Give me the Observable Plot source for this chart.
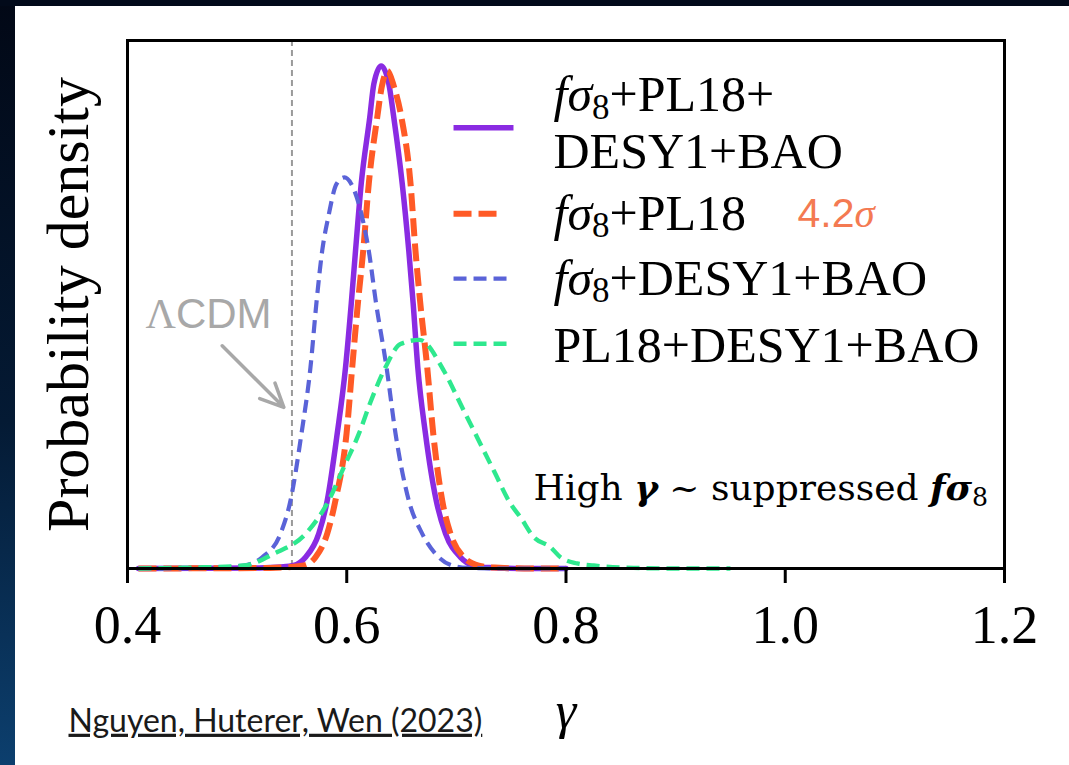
<!DOCTYPE html>
<html>
<head>
<meta charset="utf-8">
<script src="https://cdn.jsdelivr.net/npm/d3@7"></script>
<script src="https://cdn.jsdelivr.net/npm/@observablehq/plot@0.6"></script>
<style>
  html, body { margin: 0; padding: 0; }
  body { width: 1069px; height: 765px; overflow: hidden; background: linear-gradient(180deg, #020816 0%, #041a34 55%, #0c3f6e 100%); position: relative; }
  #topband { position: absolute; left: 0; top: 0; width: 1069px; height: 6px; background: #020a1a; }
  #panel { position: absolute; left: 15px; top: 6px; width: 1054px; height: 759px; background: #ffffff; border-top-left-radius: 3px; }
  #panel svg { display: block; }
</style>
</head>
<body>
<div id="topband"></div>
<div id="panel"></div>
<script>
// ---------- data ----------
const gammaTicks = [0.4, 0.6, 0.8, 1.0, 1.2];
const lcdmGamma = 0.55;

const seriesNames = ["fσ8+PL18+DESY1+BAO", "fσ8+PL18", "fσ8+DESY1+BAO", "PL18+DESY1+BAO"];

// fσ8 + PL18 + DESY1 + BAO (solid purple)
const purpleGamma = [0.41, 0.52, 0.54, 0.5514, 0.5624, 0.5745, 0.5822, 0.5913, 0.5989, 0.6041, 0.6080, 0.6132, 0.6210, 0.6247, 0.6314, 0.6384, 0.6429, 0.6506, 0.6566, 0.6606, 0.6648, 0.6718, 0.6816, 0.6901, 0.7038, 0.7156, 0.73, 0.76, 0.80];
const purpleDens  = [0, 0.02, 0.05, 0.10, 0.38, 1.18, 2.30, 4.56, 6.80, 8.95, 10.74, 13.01, 15.25, 16.38, 16.99, 16.38, 15.25, 13.01, 10.74, 8.95, 6.80, 4.56, 2.30, 1.18, 0.38, 0.10, 0.03, 0, 0];

// fσ8 + PL18 (dashed red)
const redGamma = [0.41, 0.53, 0.5608, 0.5715, 0.5822, 0.5897, 0.5998, 0.6050, 0.6103, 0.6150, 0.6201, 0.6278, 0.6320, 0.6372, 0.6430, 0.6499, 0.6582, 0.6627, 0.6670, 0.6734, 0.6789, 0.6871, 0.6946, 0.7068, 0.7205, 0.735, 0.77, 0.80];
const redDens  = [0, 0.02, 0.10, 0.38, 1.18, 2.30, 4.56, 6.80, 9.02, 10.74, 13.01, 15.25, 16.30, 16.82, 16.30, 15.25, 13.01, 10.74, 9.00, 6.80, 4.56, 2.30, 1.18, 0.38, 0.10, 0.03, 0, 0];

// fσ8 + DESY1 + BAO (dashed blue)
const blueGamma = [0.41, 0.46, 0.48, 0.5061, 0.5229, 0.5396, 0.5487, 0.5587, 0.5669, 0.5724, 0.5776, 0.5831, 0.5907, 0.5979, 0.6041, 0.6141, 0.6201, 0.6266, 0.6363, 0.6445, 0.6566, 0.6688, 0.6840, 0.6962, 0.71, 0.74, 0.80];
const blueDens  = [0, 0.01, 0.03, 0.10, 0.38, 1.18, 2.30, 4.56, 6.80, 9.00, 10.74, 11.87, 13.00, 13.22, 13.00, 11.87, 10.74, 9.00, 6.80, 4.56, 2.30, 1.18, 0.38, 0.10, 0.02, 0, 0];

// PL18 + DESY1 + BAO (dashed green)
const greenGamma = [0.41, 0.44, 0.47, 0.5061, 0.5335, 0.5624, 0.5836, 0.5973, 0.6110, 0.6217, 0.6353, 0.6490, 0.6664, 0.6885, 0.7038, 0.7190, 0.7341, 0.7494, 0.7585, 0.7706, 0.7859, 0.7950, 0.8102, 0.8254, 0.8616, 0.90, 0.95];
const greenDens  = [0, 0.02, 0.04, 0.10, 0.50, 1.17, 2.30, 3.42, 4.55, 5.63, 6.80, 7.59, 7.73, 6.69, 5.56, 4.43, 3.31, 2.19, 1.73, 1.06, 0.72, 0.38, 0.17, 0.10, 0.02, 0, 0];

const annotationText = "High γ ~ suppressed fσ8";
const lcdmText = "ΛCDM";
const tensionText = "4.2σ";
const captionText = "Nguyen, Huterer, Wen (2023)";
const yLabelText = "Probability density";
const xLabelText = "γ";

// ---------- build tables ----------
const rows = (g, d) => g.map((x, i) => ({gamma: x, dens: d[i]}));
const series = [rows(purpleGamma, purpleDens), rows(redGamma, redDens), rows(blueGamma, blueDens), rows(greenGamma, greenDens)];

// ---------- styles & layout ----------
const lineStyles = [
  {stroke: "#8a2be2", strokeWidth: 5.5, strokeDasharray: null},
  {stroke: "#ff5a26", strokeWidth: 6,   strokeDasharray: "18,7"},
  {stroke: "#5a63d8", strokeWidth: 4.2, strokeDasharray: "13,7"},
  {stroke: "#2ee88e", strokeWidth: 4.4, strokeDasharray: "13,7"}
];
const legendLines = [["fσ8+PL18+", "DESY1+BAO"], ["fσ8+PL18"], ["fσ8+DESY1+BAO"], ["PL18+DESY1+BAO"]];
const legendSwatch = {x1: 0.6974, x2: [0.7521, 0.7402, 0.7521, 0.7521], y: [14.90, 11.99, 9.80, 7.60]};
const legendTextX = 0.7886;
const legendTextY = [[16.0, 14.08], [11.99], [9.80], [7.53]];

const marks = [];
marks.push(Plot.ruleX([lcdmGamma], {stroke: "#9a9a9a", strokeWidth: 2, strokeDasharray: "6,4"}));
series.forEach((s, i) => {
  const st = lineStyles[i];
  marks.push(Plot.line(s, {x: "gamma", y: "dens", curve: "monotone-x", stroke: st.stroke, strokeWidth: st.strokeWidth,
    strokeDasharray: st.strokeDasharray, strokeLinecap: st.strokeDasharray ? "butt" : "round", strokeLinejoin: "round"}));
});
marks.push(Plot.frame({stroke: "black", strokeWidth: 3}));
marks.push(Plot.axisX({ticks: gammaTicks, tickFormat: d3.format(".1f"), tickSize: 15, tickPadding: 21, fontSize: 54, strokeWidth: 3, label: null, fill: "black"}));

// legend
legendLines.forEach((lines, i) => {
  const st = lineStyles[i];
  marks.push(Plot.link([seriesNames[i]], {x1: legendSwatch.x1, x2: legendSwatch.x2[i], y1: legendSwatch.y[i], y2: legendSwatch.y[i],
    stroke: st.stroke, strokeWidth: st.strokeWidth, strokeDasharray: st.strokeDasharray, strokeLinecap: "butt"}));
  lines.forEach((t, j) => {
    marks.push(Plot.text([t], {x: legendTextX, y: legendTextY[i][j], textAnchor: "start", lineAnchor: "middle", fontSize: 50}));
  });
});
marks.push(Plot.text([tensionText], {x: 1.0112, y: 11.99, textAnchor: "start", lineAnchor: "middle", fontFamily: "'Liberation Sans', sans-serif", fontSize: 41, fill: "#f47a52"}));

// annotations
marks.push(Plot.text([lcdmText], {x: 0.4164, y: 8.58, textAnchor: "start", lineAnchor: "middle", fontFamily: "'Liberation Sans', sans-serif", fontSize: 42, fill: "#a8a8a8"}));
marks.push(Plot.arrow([lcdmText], {x1: 0.4864, y1: 7.53, x2: 0.5426, y2: 5.45, stroke: "#a8a8a8", strokeWidth: 3.5, headLength: 11, headAngle: 50}));
marks.push(Plot.text([annotationText], {x: 0.7704, y: 2.70, textAnchor: "start", lineAnchor: "middle", fontFamily: "'DejaVu Serif', serif", fontSize: 36}));

// axis labels & caption
marks.push(Plot.text([yLabelText], {frameAnchor: "left", rotate: -90, dx: -59, textAnchor: "middle", lineAnchor: "middle", fontSize: 60}));
marks.push(Plot.text([xLabelText], {frameAnchor: "bottom", dy: 143, textAnchor: "middle", lineAnchor: "middle", fontSize: 52, fontStyle: "italic"}));
marks.push(Plot.text([captionText], {frameAnchor: "bottom-left", dx: -59, dy: 153, textAnchor: "start", lineAnchor: "middle", fontFamily: "Lato, 'Open Sans', sans-serif", fontSize: 32, fill: "#1a1a1a"}));

const plot = Plot.plot({
  width: 1054, height: 759,
  marginLeft: 112, marginRight: 65, marginTop: 34, marginBottom: 197,
  x: {domain: [0.4, 1.2]},
  y: {domain: [0, 17.85], axis: null},
  style: {fontFamily: "'Liberation Serif', 'Times New Roman', serif", background: "white", color: "black", overflow: "visible"},
  marks
});
document.getElementById("panel").appendChild(plot);

// ---------- rich text (italics, subscripts) ----------
const NS = "http://www.w3.org/2000/svg";
function mathify(el, opts = {}) {
  const s = el.textContent;
  const fs = parseFloat(getComputedStyle(el).fontSize) || 40;
  const re = /fσ(\d)?|[γσ]|Λ|[^fσγΛ]+|f/g;
  el.textContent = "";
  let shift = 0, m;
  const add = (txt, o) => {
    const t = document.createElementNS(NS, "tspan");
    t.textContent = txt;
    if (o.italic) t.setAttribute("font-style", "italic");
    if (o.bold) t.setAttribute("font-weight", "bold");
    if (o.family) t.setAttribute("font-family", o.family);
    if (o.sub) {
      t.setAttribute("font-size", (fs * 0.7) + "px");
      t.setAttribute("dy", (fs * 0.15 - shift) + "px");
      shift = fs * 0.15;
    } else if (shift) {
      t.setAttribute("dy", (-shift) + "px");
      shift = 0;
    }
    el.appendChild(t);
  };
  while ((m = re.exec(s))) {
    const tok = m[0];
    if (tok.startsWith("fσ")) {
      add("fσ", {italic: true, bold: opts.bold, family: opts.greekFamily});
      if (m[1]) add(m[1], {sub: true});
    } else if (tok === "γ" || tok === "σ") {
      add(tok, {italic: true, bold: opts.bold, family: opts.greekFamily});
    } else if (tok === "Λ") {
      add(tok, {family: "'Liberation Serif', serif"});
    } else {
      add(tok, {});
    }
  }
}
plot.querySelectorAll("text").forEach(el => {
  const s = el.textContent;
  if (s === annotationText) mathify(el, {bold: true});
  else if (s === tensionText) mathify(el, {greekFamily: "'Liberation Serif', serif"});
  else if (s === lcdmText) mathify(el);
  else if (s.includes("fσ")) mathify(el);
  else if (s === captionText) el.setAttribute("text-decoration", "underline");
});
</script>
</body>
</html>
